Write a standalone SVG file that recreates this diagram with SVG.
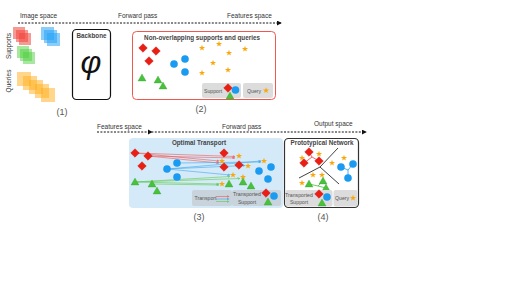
<svg xmlns="http://www.w3.org/2000/svg" width="527" height="296" viewBox="0 0 527 296">
<style>
text{font-family:"Liberation Sans",Arial,sans-serif;}
.lbl{font-size:6.5px;fill:#333;}
.ttl{font-size:6.3px;fill:#444;font-weight:bold;}
.num{font-size:9px;fill:#555;}
.leg{font-size:5.2px;fill:#555;}
.lbox{fill:#dcdcdc;}
.dash{stroke:#111;stroke-width:1;stroke-dasharray:2,1.4;fill:none;}
.sq-r{fill:#f0463a;opacity:.55;} .sq-b{fill:#28a4f5;opacity:.55;} .sq-g{fill:#4fcf3f;opacity:.5;} .sq-o{fill:#ffae1a;opacity:.5;}
.tr{stroke:#f05a5a;stroke-width:.75;opacity:.8;}
.tb{stroke:#40a8f0;stroke-width:.75;opacity:.8;}
.tg{stroke:#60cc50;stroke-width:.75;opacity:.8;}
.proto{stroke-width:.8;fill:none;}
.bnd{stroke:#111;stroke-width:.8;}
</style>
<defs>
<path id="dia" d="M0,-4.3 L4.3,0 L0,4.3 L-4.3,0Z" fill="#ea1e12" stroke="#c01010" stroke-width=".4"/>
<circle id="cir" r="3.8" fill="#1a9af0"/>
<path id="tri" d="M0,-4 L4,3 L-4,3Z" fill="#48c23a" stroke="#2a9a28" stroke-width=".3"/>
<path id="star" d="M0,-3.2 L0.76,-1.05 L3.04,-0.99 L1.24,0.4 L1.88,2.59 L0,1.3 L-1.88,2.59 L-1.24,0.4 L-3.04,-0.99 L-0.76,-1.05Z" fill="#f7a80c"/>
<marker id="ah" viewBox="0 0 6 6" refX="5" refY="3" markerWidth="5" markerHeight="5" orient="auto"><path d="M0,0 L6,3 L0,6Z" fill="#111"/></marker>
<marker id="mr" viewBox="0 0 6 6" refX="5" refY="3" markerWidth="4" markerHeight="4" orient="auto"><path d="M0,0 L6,3 L0,6Z" fill="#f05a5a"/></marker>
<marker id="mb" viewBox="0 0 6 6" refX="5" refY="3" markerWidth="4" markerHeight="4" orient="auto"><path d="M0,0 L6,3 L0,6Z" fill="#40a8f0"/></marker>
<marker id="mg" viewBox="0 0 6 6" refX="5" refY="3" markerWidth="4" markerHeight="4" orient="auto"><path d="M0,0 L6,3 L0,6Z" fill="#60cc50"/></marker>
</defs>

<g id="axis-top">
<text class="lbl" x="20" y="18">Image space</text>
<text class="lbl" x="118" y="18">Forward pass</text>
<text class="lbl" x="227" y="18">Features space</text>
</g>
<g id="axis-bottom">
<text class="lbl" x="97" y="129">Features space</text>
<text class="lbl" x="222" y="129">Forward pass</text>
<text class="lbl" x="314" y="126">Output space</text>
</g>

<g id="connectors">
<line class="dash" x1="18" y1="23" x2="281" y2="23" marker-end="url(#ah)"/>
<line class="dash" x1="97" y1="132" x2="366" y2="132" marker-end="url(#ah)"/>
<path d="M148,129.5 L152.5,132 L148,134.5Z" fill="#111"/>
</g>

<g id="images">
<rect class="sq-r" x="13" y="27" width="12" height="12"/>
<rect class="sq-r" x="16" y="30" width="12" height="12"/>
<rect class="sq-r" x="19" y="33" width="12" height="12"/>
<rect class="sq-b" x="41" y="27" width="13" height="13"/>
<rect class="sq-b" x="44" y="30" width="13" height="13"/>
<rect class="sq-b" x="47" y="33" width="13" height="13"/>
<rect class="sq-g" x="17" y="46" width="12" height="12"/>
<rect class="sq-g" x="20" y="49" width="12" height="12"/>
<rect class="sq-g" x="23" y="52" width="12" height="12"/>
<rect class="sq-o" x="17" y="72" width="14" height="14"/>
<rect class="sq-o" x="23" y="76" width="14" height="14"/>
<rect class="sq-o" x="29" y="80" width="14" height="14"/>
<rect class="sq-o" x="35" y="84" width="14" height="14"/>
<rect class="sq-o" x="41" y="88" width="14" height="14"/>
<text class="lbl" transform="translate(10.5,46) rotate(-90)" text-anchor="middle" fill="#555">Supports</text>
<text class="lbl" transform="translate(10.5,81) rotate(-90)" text-anchor="middle" fill="#555">Queries</text>
<text class="num" x="62" y="115" text-anchor="middle">(1)</text>
</g>

<g id="backbone">
<rect x="72.5" y="29.5" width="38" height="70" rx="4" fill="#fff" stroke="#111" stroke-width="1.2"/>
<text class="ttl" x="91.5" y="37.5" text-anchor="middle">Backbone</text>
<text x="91" y="73" text-anchor="middle" font-family="Liberation Serif,serif" font-style="italic" font-size="32" fill="#111">φ</text>
</g>

<g id="box2">
<rect x="132.5" y="31.5" width="143" height="68" rx="4" fill="#fff" stroke="#f0584e" stroke-width="1"/>
<text class="ttl" x="202" y="39.5" text-anchor="middle">Non-overlapping supports and queries</text>
<use href="#dia" x="143" y="48"/><use href="#dia" x="156" y="51"/><use href="#dia" x="149" y="61"/>
<use href="#cir" x="174" y="64"/><use href="#cir" x="185" y="59"/><use href="#cir" x="185" y="72"/>
<use href="#tri" x="142" y="78"/><use href="#tri" x="158" y="80"/><use href="#tri" x="163" y="86"/>
<use href="#star" x="202" y="48"/><use href="#star" x="219" y="44"/><use href="#star" x="229" y="53"/><use href="#star" x="245" y="49"/><use href="#star" x="213" y="63"/><use href="#star" x="202" y="73"/><use href="#star" x="228" y="70"/>
<rect class="lbox" x="202" y="83" width="39" height="15" rx="2"/>
<text class="leg" x="204" y="92.5">Support</text>
<use href="#dia" x="228" y="88"/><use href="#cir" x="235.5" y="90"/><use href="#tri" x="230" y="96"/>
<rect class="lbox" x="243" y="83" width="30" height="15" rx="2"/>
<text class="leg" x="247" y="92.5">Query</text>
<use href="#star" x="266" y="90.5"/>
<text class="num" x="201" y="112" text-anchor="middle">(2)</text>
</g>

<g id="box3">
<rect x="129" y="138" width="154" height="70" rx="4" fill="#d5eaf8"/>
<text class="ttl" x="199" y="145" text-anchor="middle">Optimal Transport</text>
<g id="transport-lines">
<line class="tr" x1="135" y1="153" x2="235" y2="156.5" marker-end="url(#mr)"/>
<line class="tr" x1="135" y1="153" x2="219" y2="161" marker-end="url(#mr)"/>
<line class="tr" x1="148" y1="156" x2="235" y2="158" marker-end="url(#mr)"/>
<line class="tr" x1="148" y1="156" x2="219" y2="163" marker-end="url(#mr)"/>
<line class="tb" x1="167" y1="169" x2="261" y2="161" marker-end="url(#mb)"/>
<line class="tb" x1="167" y1="169" x2="245" y2="165.5" marker-end="url(#mb)"/>
<line class="tb" x1="167" y1="169" x2="230" y2="175" marker-end="url(#mb)"/>
<line class="tb" x1="177" y1="163" x2="261" y2="162" marker-end="url(#mb)"/>
<line class="tg" x1="135" y1="182" x2="230" y2="176.5" marker-end="url(#mg)"/>
<line class="tg" x1="135" y1="182" x2="240" y2="178.5" marker-end="url(#mg)"/>
<line class="tg" x1="135" y1="182" x2="219" y2="184" marker-end="url(#mg)"/>
<line class="tg" x1="152" y1="184" x2="219" y2="185" marker-end="url(#mg)"/>
</g>
<use href="#dia" x="135" y="153"/><use href="#dia" x="148" y="156"/><use href="#dia" x="142" y="166"/>
<use href="#cir" x="167" y="169"/><use href="#cir" x="177" y="163"/><use href="#cir" x="177" y="177"/>
<use href="#tri" x="135" y="182"/><use href="#tri" x="152" y="184"/><use href="#tri" x="157" y="191"/>
<use href="#dia" x="224" y="153"/><use href="#dia" x="224" y="167"/><use href="#dia" x="239" y="165"/>
<use href="#star" x="239" y="156"/><use href="#star" x="222" y="161"/><use href="#star" x="248" y="166"/><use href="#star" x="264" y="161"/><use href="#star" x="233" y="175"/><use href="#star" x="243" y="177"/><use href="#star" x="222" y="184"/>
<use href="#cir" x="259" y="171"/><use href="#cir" x="271" y="167"/><use href="#cir" x="268" y="179"/>
<use href="#tri" x="229" y="184"/><use href="#tri" x="243" y="182"/><use href="#tri" x="251" y="186"/>
<rect x="192" y="190" width="40" height="16" rx="2" fill="#c8d3dc"/>
<text class="leg" x="194.5" y="200">Transport</text>
<line class="tr" x1="216" y1="196.5" x2="229" y2="196.5" marker-end="url(#mr)"/>
<line class="tb" x1="216" y1="199" x2="229" y2="199" marker-end="url(#mb)"/>
<line class="tg" x1="216" y1="201.5" x2="229" y2="201.5" marker-end="url(#mg)"/>
<rect x="232" y="190" width="49" height="16" rx="2" fill="#c8d3dc"/>
<text class="leg" x="247" y="196" text-anchor="middle">Transported</text>
<text class="leg" x="247" y="203.5" text-anchor="middle">Support</text>
<use href="#dia" x="266" y="193"/><use href="#cir" x="274" y="196"/><use href="#tri" x="268" y="202"/>
<text class="num" x="199" y="220" text-anchor="middle">(3)</text>
</g>

<g id="box4">
<rect x="284.5" y="138.5" width="74" height="69" rx="4" fill="#fff" stroke="#333" stroke-width="1.2"/>
<text class="ttl" x="322" y="145" text-anchor="middle">Prototypical Network</text>
<line class="bnd" x1="320" y1="167" x2="338" y2="148"/>
<line class="bnd" x1="320" y1="167" x2="299" y2="178"/>
<line class="bnd" x1="320" y1="167" x2="339" y2="184"/>
<path class="proto" stroke="#f04040" d="M309,152 L312,157 M304,163 L312,157 M319,161 L312,157"/>
<path class="proto" stroke="#1a9af0" d="M341,167 L348,170 M353,164 L348,170 M348,178 L348,170"/>
<path class="proto" stroke="#48c23a" d="M309,184 L318,186 M323,181 L318,186 M326,188 L318,186"/>
<use href="#star" x="302" y="158"/><use href="#star" x="319" y="154"/><use href="#star" x="332" y="163"/><use href="#star" x="344" y="158"/><use href="#star" x="313" y="175"/><use href="#star" x="322" y="175"/><use href="#star" x="302" y="183"/>
<use href="#dia" x="309" y="152"/><use href="#dia" x="304" y="163"/><use href="#dia" x="319" y="161"/>
<use href="#cir" x="341" y="167"/><use href="#cir" x="353" y="164"/><use href="#cir" x="348" y="178"/>
<use href="#tri" x="309" y="184"/><use href="#tri" x="323" y="181"/><use href="#tri" x="326" y="188"/>
<rect class="lbox" x="285.5" y="190" width="47" height="16.5" rx="2"/>
<text class="leg" x="299" y="196.5" text-anchor="middle">Transported</text>
<text class="leg" x="299" y="203.5" text-anchor="middle">Support</text>
<use href="#dia" x="319" y="194"/><use href="#cir" x="327" y="197"/><use href="#tri" x="322" y="203"/>
<rect class="lbox" x="333.5" y="190" width="24" height="16.5" rx="2"/>
<text class="leg" x="335" y="200">Query</text>
<use href="#star" x="353" y="198"/>
<text class="num" x="323" y="220" text-anchor="middle">(4)</text>
</g>
</svg>
